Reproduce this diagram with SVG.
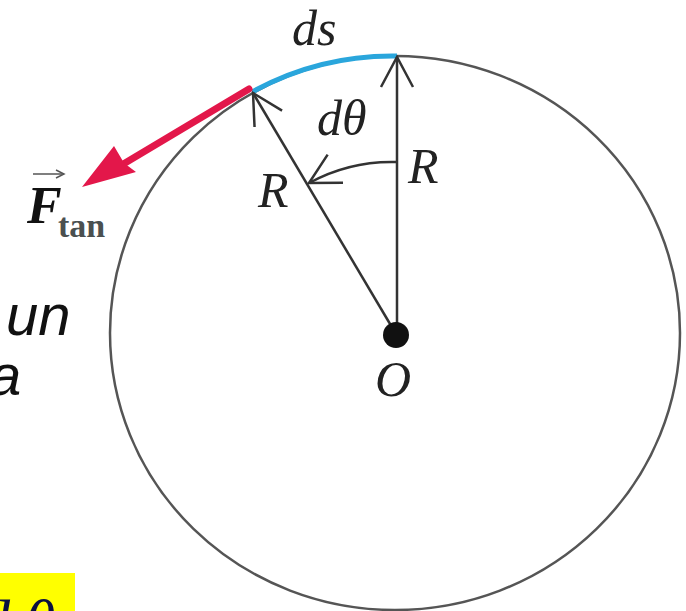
<svg xmlns="http://www.w3.org/2000/svg" width="686" height="611" viewBox="0 0 686 611">
<style>
.lbl{font-family:"Liberation Serif","Times New Roman",serif;font-style:italic;font-size:50px;fill:#222}
.slide{font-family:"Liberation Sans",Arial,sans-serif;font-style:italic;font-size:58px;fill:#111}
.rad{stroke:#333;stroke-width:2.5;fill:none}
</style>
<defs>
<marker id="open" markerUnits="userSpaceOnUse" viewBox="-32 -18 34 36" markerWidth="34" markerHeight="36" refX="0" refY="0" orient="auto">
<path d="M-30,-16 L0,0 L-30,16" fill="none" stroke="#333" stroke-width="2.5"/>
</marker>
<marker id="small" markerUnits="userSpaceOnUse" viewBox="-10 -6 12 12" markerWidth="12" markerHeight="12" refX="0" refY="0" orient="auto">
<path d="M-8,-4 L0,0 L-8,4" fill="none" stroke="#555" stroke-width="1.5"/>
</marker>
</defs>
<rect width="686" height="611" fill="#fff"/>
<g id="slide-text">
<text class="slide" x="6" y="335">un</text>
<text class="slide" x="-11" y="395">a</text>
<rect x="0" y="573" width="75" height="38" fill="#ffff00"/>
<text x="-22" y="644" style="font-family:'Liberation Serif',serif;font-style:italic;font-size:64px;fill:#0a1040" letter-spacing="14">dθ</text>
</g>
<g id="circle">
<ellipse cx="395" cy="333" rx="285" ry="277" fill="none" stroke="#555" stroke-width="2.5"/>
</g>
<g id="connectors">
<path id="ds-arc" d="M252,92 A285,277 0 0,1 397,56" fill="none" stroke="#2aa6dc" stroke-width="5"/>
<line class="rad" x1="397" y1="334" x2="397" y2="57" marker-end="url(#open)"/>
<line class="rad" x1="396" y1="334" x2="253" y2="93" marker-end="url(#open)"/>
<path class="rad" d="M397,162 A172,172 0 0,0 309,183" marker-end="url(#open)" stroke="#555"/>
<line x1="249" y1="89" x2="120" y2="166" stroke="#e3174a" stroke-width="7" stroke-linecap="round"/>
<polygon points="82,187 114,146 124,163 136,172" fill="#e3174a"/>
</g>
<g id="O">
<circle cx="396" cy="335" r="13" fill="#111"/>
<text class="lbl" x="375" y="396">O</text>
</g>
<g id="labels">
<text class="lbl" x="292" y="45">ds</text>
<text class="lbl" x="317" y="135">dθ</text>
<text class="lbl" x="408" y="183">R</text>
<text class="lbl" x="258" y="207">R</text>
</g>
<g id="F-tan">
<line x1="33" y1="174" x2="64" y2="174" stroke="#555" stroke-width="1.5" marker-end="url(#small)"/>
<text x="27" y="223" style="font-family:'Liberation Serif',serif;font-style:italic;font-weight:bold;font-size:52px;fill:#111">F</text>
<text x="58" y="237" style="font-family:'Liberation Serif',serif;font-weight:bold;font-size:34px;fill:#4a5050">tan</text>
</g>
</svg>
